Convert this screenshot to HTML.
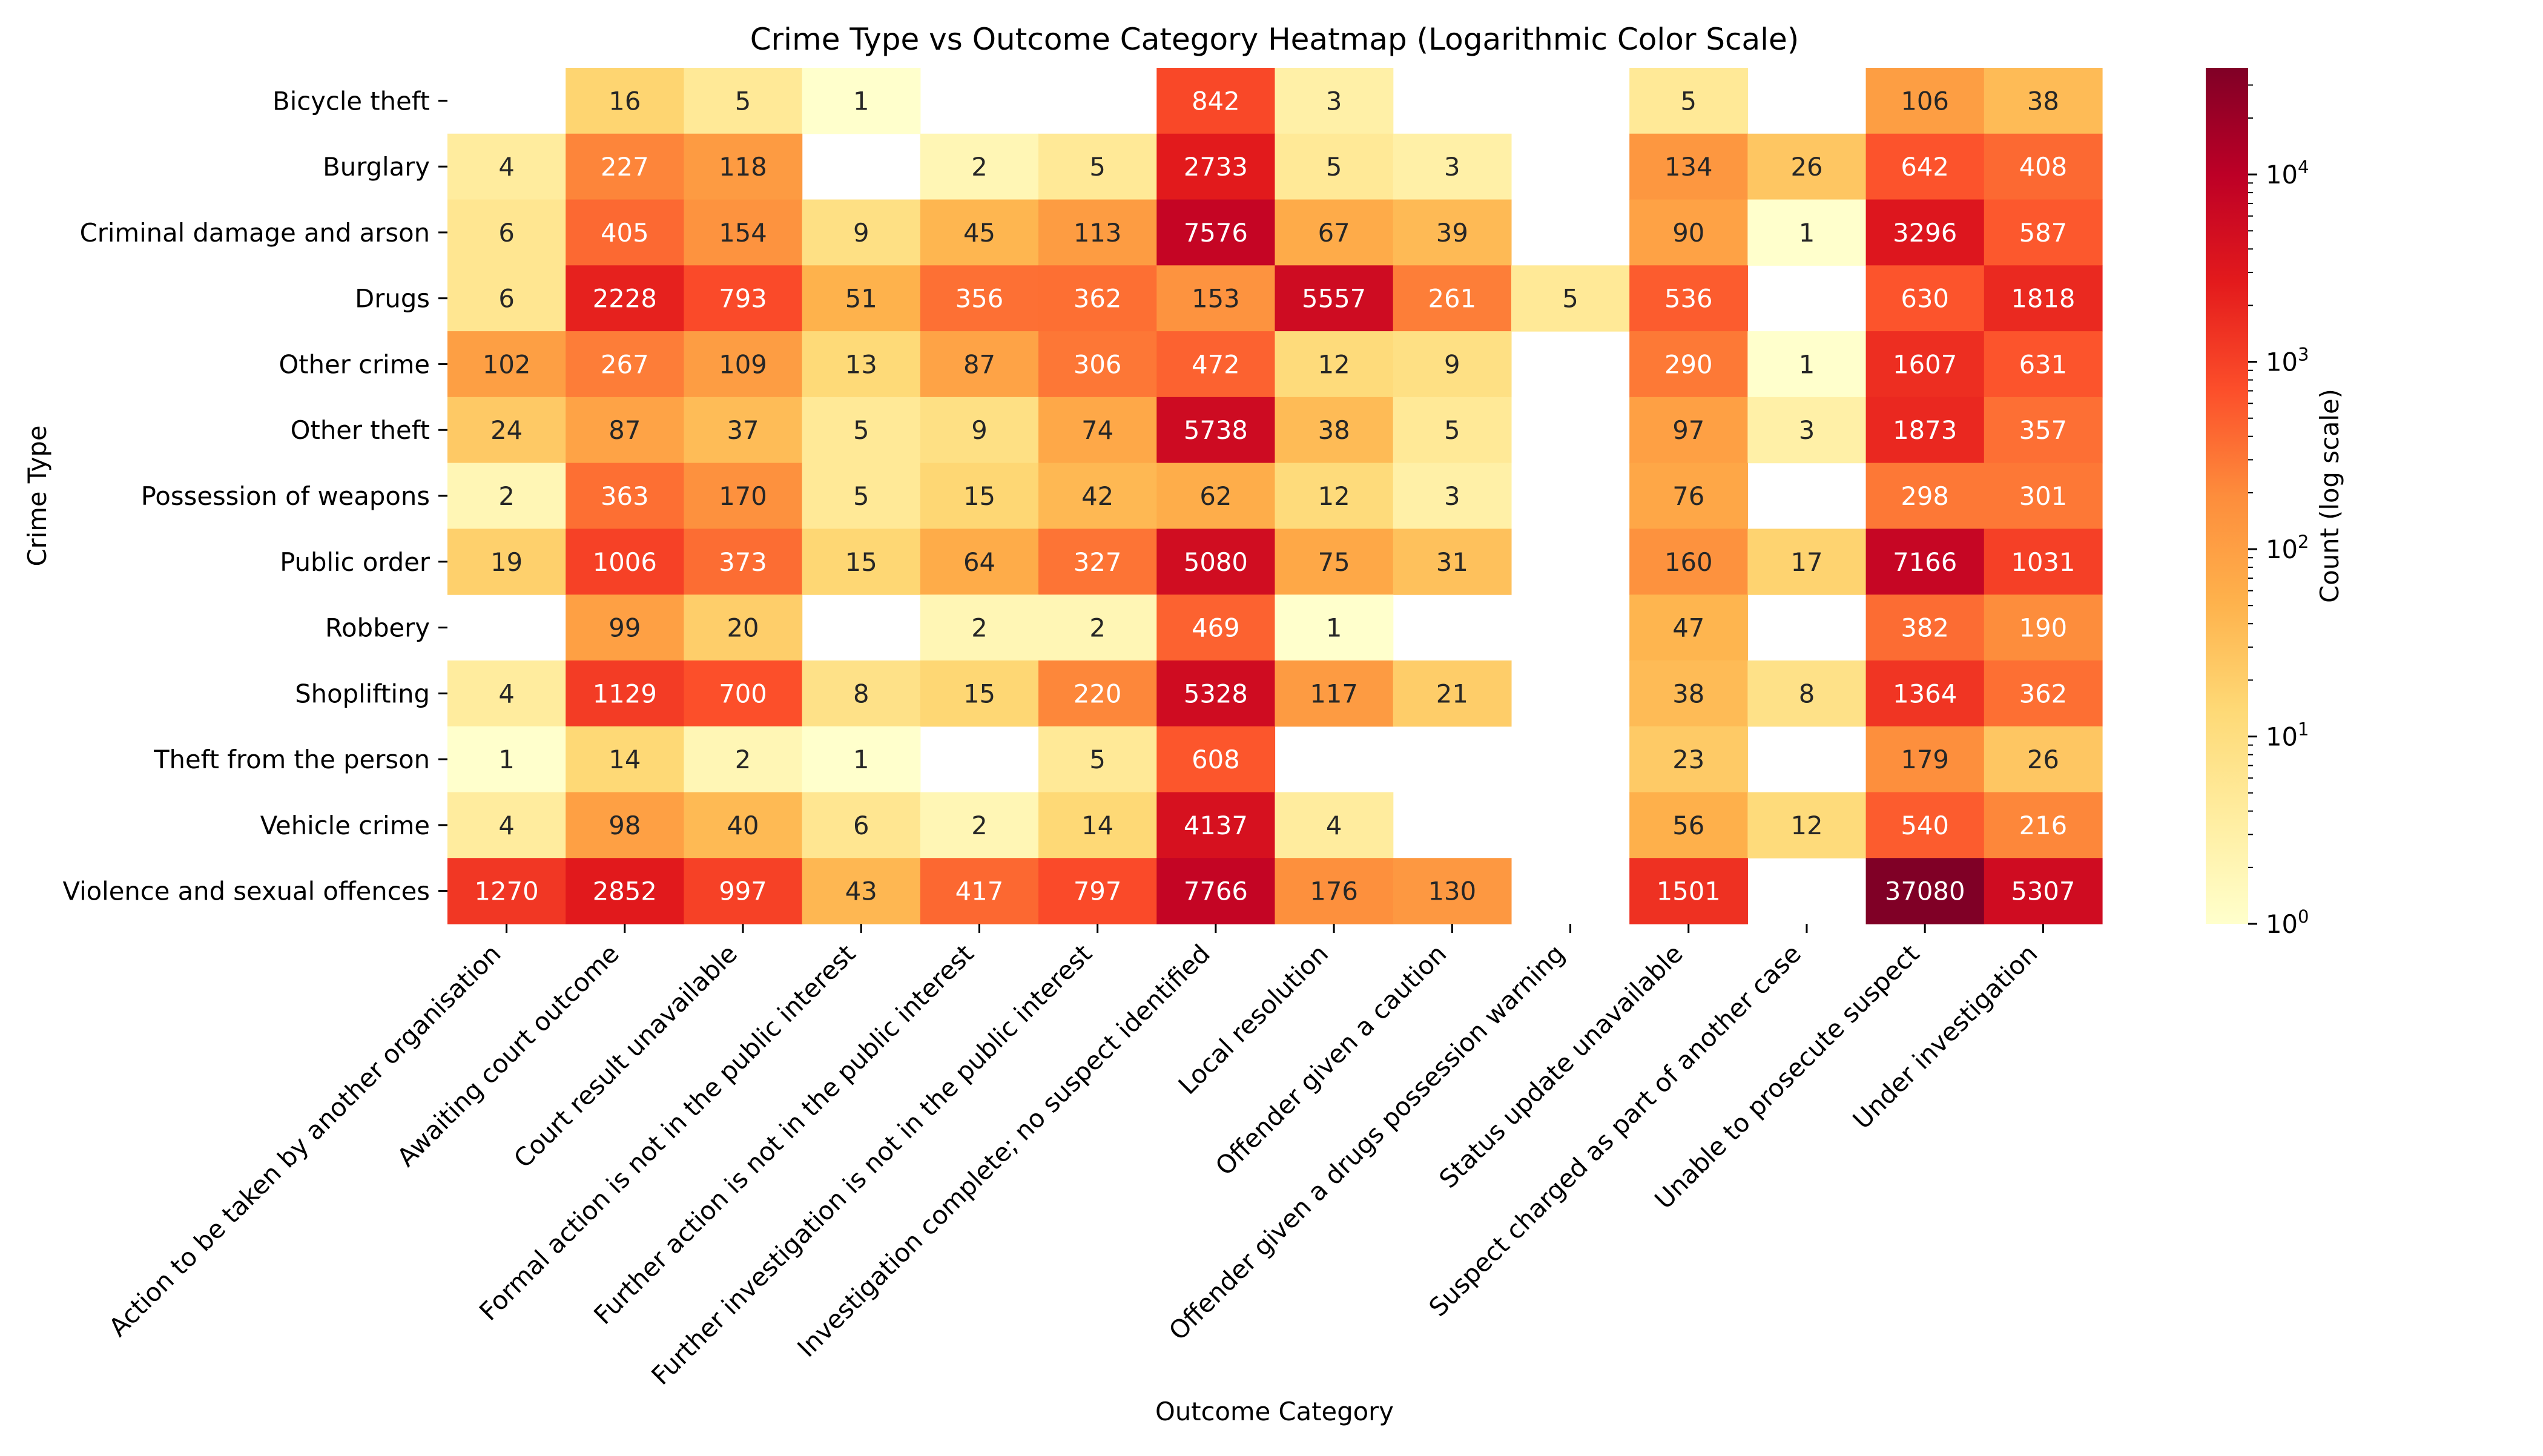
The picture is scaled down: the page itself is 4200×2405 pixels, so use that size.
<!DOCTYPE html>
<html><head><meta charset="utf-8"><style>
html,body{margin:0;padding:0;background:#fff}
svg text{font-family:"DejaVu Sans","Liberation Sans",sans-serif}
</style></head><body>
<svg id="chart" xmlns="http://www.w3.org/2000/svg" width="4200" height="2400" viewBox="0 0 4200 2400">
<rect x="0" y="0" width="4200" height="2400" fill="#fff"/>
<text x="2105" y="82" font-size="50" text-anchor="middle" fill="#000">Crime Type vs Outcome Category Heatmap (Logarithmic Color Scale)</text>
<text x="2105" y="2346" font-size="41.7" text-anchor="middle" fill="#000">Outcome Category</text>
<text transform="translate(76,819) rotate(-90)" font-size="41.7" text-anchor="middle" fill="#000">Crime Type</text>
<text transform="translate(3862,819) rotate(-90)" font-size="41.7" text-anchor="middle" fill="#000">Count (log scale)</text>
<defs><linearGradient id="cbgrad" x1="0" y1="1" x2="0" y2="0"></linearGradient></defs>
<g id="cells"></g><g id="xt"></g><g id="yt"></g><g id="cb"></g>
</svg>
<script>
const outcomes=["Action to be taken by another organisation","Awaiting court outcome","Court result unavailable","Formal action is not in the public interest","Further action is not in the public interest","Further investigation is not in the public interest","Investigation complete; no suspect identified","Local resolution","Offender given a caution","Offender given a drugs possession warning","Status update unavailable","Suspect charged as part of another case","Unable to prosecute suspect","Under investigation"];
const crimes=["Bicycle theft","Burglary","Criminal damage and arson","Drugs","Other crime","Other theft","Possession of weapons","Public order","Robbery","Shoplifting","Theft from the person","Vehicle crime","Violence and sexual offences"];
const rowBicycle=[null,16,5,1,null,null,842,3,null,null,5,null,106,38];
const rowBurglary=[4,227,118,null,2,5,2733,5,3,null,134,26,642,408];
const rowDamage=[6,405,154,9,45,113,7576,67,39,null,90,1,3296,587];
const rowDrugs=[6,2228,793,51,356,362,153,5557,261,5,536,null,630,1818];
const rowOtherCrime=[102,267,109,13,87,306,472,12,9,null,290,1,1607,631];
const rowOtherTheft=[24,87,37,5,9,74,5738,38,5,null,97,3,1873,357];
const rowWeapons=[2,363,170,5,15,42,62,12,3,null,76,null,298,301];
const rowPublicOrder=[19,1006,373,15,64,327,5080,75,31,null,160,17,7166,1031];
const rowRobbery=[null,99,20,null,2,2,469,1,null,null,47,null,382,190];
const rowShoplifting=[4,1129,700,8,15,220,5328,117,21,null,38,8,1364,362];
const rowTheftPerson=[1,14,2,1,null,5,608,null,null,null,23,null,179,26];
const rowVehicle=[4,98,40,6,2,14,4137,4,null,null,56,12,540,216];
const rowViolence=[1270,2852,997,43,417,797,7766,176,130,null,1501,null,37080,5307];
const values=[rowBicycle,rowBurglary,rowDamage,rowDrugs,rowOtherCrime,rowOtherTheft,rowWeapons,rowPublicOrder,rowRobbery,rowShoplifting,rowTheftPerson,rowVehicle,rowViolence];
const cbExponents=[0,1,2,3,4];

const NS="http://www.w3.org/2000/svg";
const L=739,R=3472,T=112,B=1526;
const cw=(R-L)/outcomes.length, rh=(B-T)/crimes.length;
let vmax=1;values.forEach(r=>r.forEach(v=>{if(v!=null&&v>vmax)vmax=v;}));
const lmax=Math.log10(vmax);
const stops=["#ffffcc","#ffeda0","#fed976","#feb24c","#fd8d3c","#fc4e2a","#e31a1c","#bd0026","#800026"].map(h=>[parseInt(h.substr(1,2),16),parseInt(h.substr(3,2),16),parseInt(h.substr(5,2),16)]);
function cmap(t){t=Math.max(0,Math.min(1,t));const p=t*(stops.length-1);const i=Math.min(Math.floor(p),stops.length-2);const f=p-i;return stops[i].map((c,k)=>Math.round(c+(stops[i+1][k]-c)*f));}
function xPos(i){return L+cw*(i+0.5);}
function yPos(j){return T+rh*(j+0.5);}
function cbY(v){return B-(Math.log10(v)/lmax)*(B-T);}
function lum(rgb){const c=rgb.map(x=>{x/=255;return x<=0.03928?x/12.92:Math.pow((x+0.055)/1.055,2.4);});return 0.2126*c[0]+0.7152*c[1]+0.0722*c[2];}
function mk(tag,attrs,parent){const e=document.createElementNS(NS,tag);for(const k in attrs)e.setAttribute(k,attrs[k]);parent.appendChild(e);return e;}
const cells=document.getElementById('cells');
values.forEach((row,j)=>row.forEach((v,i)=>{
  if(v==null)return;
  const rgb=cmap(Math.log10(v)/lmax);
  const r=mk('rect',{x:L+cw*i,y:T+rh*j,width:cw+0.6,height:rh+0.6,fill:`rgb(${rgb.join(',')})`},cells);
  
  
  const t=mk('text',{x:xPos(i),y:yPos(j)+15,'font-size':41.7,'text-anchor':'middle',fill:lum(rgb)>0.408?'#262626':'#ffffff'},cells);
  t.textContent=v;
  
  
}));
const xt=document.getElementById('xt');
outcomes.forEach((o,i)=>{
  const x=xPos(i);
  const tk=mk('line',{x1:x,y1:B,x2:x,y2:B+15,stroke:'#000','stroke-width':3},xt);
  
  
  const t=mk('text',{transform:`translate(${x-7},${B+52}) rotate(-45)`,'font-size':41.7,'text-anchor':'end',fill:'#000'},xt);
  t.textContent=o;
  
  
});
const yt=document.getElementById('yt');
crimes.forEach((c,j)=>{
  const y=yPos(j);
  const tk=mk('line',{x1:L-15,y1:y,x2:L,y2:y,stroke:'#000','stroke-width':3},yt);
  
  
  const t=mk('text',{x:L-29,y:y+15,'font-size':41.7,'text-anchor':'end',fill:'#000'},yt);
  t.textContent=c;
  
  
});
// colorbar
const g=document.getElementById('cbgrad');
stops.forEach((s,k)=>{mk('stop',{offset:(k/(stops.length-1)),'stop-color':`rgb(${s.join(',')})`},g);});
const cb=document.getElementById('cb');
const CX0=3643,CX1=3713;
const bar=mk('rect',{x:CX0,y:T,width:CX1-CX0,height:B-T,fill:'url(#cbgrad)'},cb);


cbExponents.forEach(e=>{
  const v=Math.pow(10,e);const y=cbY(v);
  const tk=mk('line',{x1:CX1,y1:y,x2:CX1+15,y2:y,stroke:'#000','stroke-width':3},cb);
  
  
  const t=mk('text',{x:CX1+29,y:y+15,'font-size':41.7,fill:'#000'},cb);
  t.innerHTML=`10<tspan dy="-17" font-size="29">${e}</tspan>`;
  
  
  for(let m=2;m<=9;m++){const mv=m*v;if(mv>vmax)break;const my=cbY(mv);
    const mt=mk('line',{x1:CX1,y1:my,x2:CX1+8,y2:my,stroke:'#000','stroke-width':2},cb);
    
    }
});
</script>
</body></html>
